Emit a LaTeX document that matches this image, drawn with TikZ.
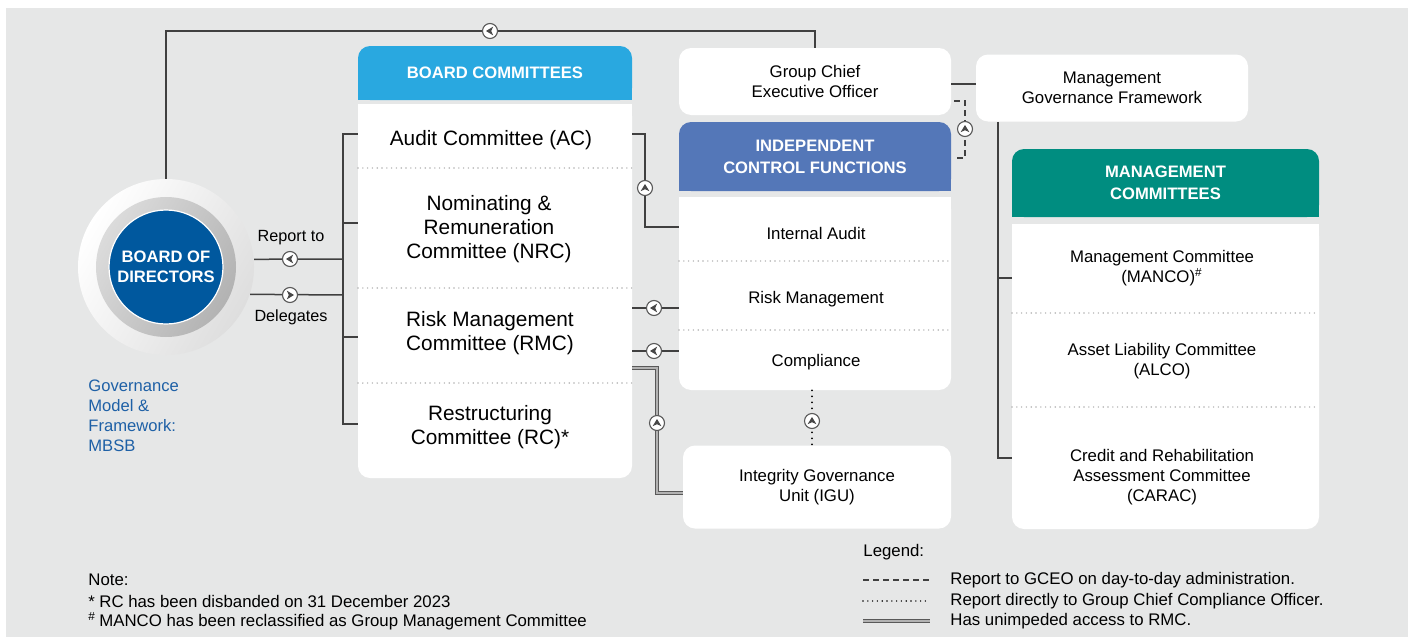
\documentclass[tikz,border=0pt]{standalone}
\usepackage{fontspec}
\setmainfont{Liberation Sans}
\usetikzlibrary{backgrounds}

\definecolor{pagegray}{RGB}{230,231,231}
\definecolor{bcblue}{RGB}{41,168,224}
\definecolor{icfblue}{RGB}{84,119,184}
\definecolor{mcteal}{RGB}{0,141,128}
\definecolor{bodblue}{RGB}{0,88,158}
\definecolor{govblue}{RGB}{30,96,166}

\tikzset{
  panel/.style={fill=white, rounded corners=6pt, inner sep=0pt},
  headbox/.style={rounded corners=6pt, inner sep=0pt, text=white, align=center,
    font=\bfseries\fontsize{8.3}{11}\selectfont},
  rowtext/.style={align=center, font=\fontsize{10.4}{12}\selectfont},
  srow/.style={align=center, font=\fontsize{8.4}{10}\selectfont},
  notetext/.style={inner sep=0pt, font=\fontsize{8.4}{10}\selectfont},
  rowline/.style={draw=black!30, line width=0.8pt, dash pattern=on 0pt off 2.4pt, line cap=round},
  link/.style={draw=black!75, line width=0.75pt},
  dashlink/.style={link, dash pattern=on 3pt off 2pt},
  dotlink/.style={draw=black, line width=1pt, line cap=round, dash pattern=on 0pt off 3pt},
  dbllink/.style={draw=black!65, double=black!30, double distance=0.9pt, line width=0.6pt},
  dirmark/.pic={
    \draw[black!65, fill=white, line width=0.55pt] (0,0) circle (7.5);
    \fill[black!72] (-4,0) -- (3.2,-4.4) -- (1.2,0) -- (3.2,4.4) -- cycle;
  }
}

\begin{document}
\begin{tikzpicture}[x=0.5pt, y=-0.5pt]
  \useasboundingbox (0,0) rectangle (1408,637);

  % --- board of directors ---
  \node[circle, minimum size=88pt, inner sep=0pt, left color=white, right color=black!13,
        shading angle=60] (bodring) at (166,267) {};
  \node[circle, minimum size=70pt, inner sep=0pt, left color=black!14, right color=black!30,
        shading angle=60] (bodmid) at (166,267) {};
  \node[circle, minimum size=57pt, inner sep=0pt, fill=bodblue, draw=white, line width=0.6pt,
        text=white, align=center, font=\bfseries\fontsize{8.3}{10}\selectfont] (bod) at (166,267)
        {BOARD OF\\DIRECTORS};
  \node[anchor=west, align=left, inner sep=0pt, text=govblue,
        font=\fontsize{8.3}{10}\selectfont] (gov) at (88,416)
        {Governance\\Model \&\\Framework:\\MBSB};
  \node[font=\fontsize{8.1}{10}\selectfont] (repto) at (291,238) {Report to};
  \node[font=\fontsize{8.1}{10}\selectfont] (deleg) at (291,317) {Delegates};

  % --- board committees ---
  \node[headbox, fill=bcblue, minimum width=137pt, minimum height=27pt] (bchead) at (495,73)
        {BOARD COMMITTEES};
  \node[panel, minimum width=137pt, minimum height=187pt] (bcbody) at (495,291) {};
  \node[rowtext] (ac) at (491,140) {Audit Committee (AC)};
  \node[rowtext] (nrc) at (489,229) {Nominating \&\\Remuneration\\Committee (NRC)};
  \node[rowtext] (rmc) at (490,333) {Risk Management\\Committee (RMC)};
  \node[rowtext] (rc) at (490,427) {Restructuring\\Committee (RC)*};
  \foreach \y in {168,288,383}
    \draw[rowline] (358,\y) -- (632,\y);

  % --- gceo and management framework ---
  \node[panel, srow, minimum width=136pt, minimum height=33.5pt] (gceo) at (815,81.5)
        {Group Chief\\Executive Officer};
  \node[panel, srow, minimum width=136pt, minimum height=33.5pt] (mgf) at (1112,88)
        {Management\\Governance Framework};

  % --- independent control functions ---
  \node[headbox, fill=icfblue, minimum width=136pt, minimum height=34.5pt] (icfhead) at (815,156.5)
        {INDEPENDENT\\CONTROL FUNCTIONS};
  \node[panel, minimum width=136pt, minimum height=96.5pt] (icfbody) at (815,293.5) {};
  \node[srow] (ia) at (816,233) {Internal Audit};
  \node[srow] (rm) at (816,299) {Risk Management};
  \node[srow] (comp) at (816,362) {Compliance};
  \foreach \y in {261,330}
    \draw[rowline] (679,\y) -- (951,\y);
  \node[panel, srow, minimum width=134pt, minimum height=41.5pt] (igu) at (817,487)
        {Integrity Governance\\Unit (IGU)};

  % --- management committees ---
  \node[headbox, fill=mcteal, minimum width=153.5pt, minimum height=34pt] (mchead) at (1165.5,183)
        {MANAGEMENT\\COMMITTEES};
  \node[panel, minimum width=153.5pt, minimum height=152.5pt] (mcbody) at (1165.5,376.5) {};
  \node[srow] (manco) at (1162,268) {Management Committee\\(MANCO)\textsuperscript{\#}};
  \node[srow] (alco) at (1162,361) {Asset Liability Committee\\(ALCO)};
  \node[srow] (carac) at (1162,477) {Credit and Rehabilitation\\Assessment Committee\\(CARAC)};
  \foreach \y in {313,407}
    \draw[rowline] (1012,\y) -- (1319,\y);

  % --- connectors ---
  \coordinate (topc) at (490,31);
  \draw[link] (bodring.north) |- (topc) -| (gceo.north);
  \draw[link] (bodring.5) -- (343,259);
  \draw[link] (bodring.-18.5) -- (343,295);
  \draw[link] (bcbody.west |- 0,134) -| (343,424) -- (bcbody.west |- 0,424);
  \draw[link] (343,223) -- (bcbody.west |- 0,223);
  \draw[link] (343,337) -- (bcbody.west |- 0,337);
  \draw[link] (bcbody.east |- 0,134) -| (645,227) -- (icfbody.west |- 0,227);
  \draw[link] (icfbody.west |- 0,308) -- (bcbody.east |- 0,308);
  \draw[link] (icfbody.west |- 0,351) -- (bcbody.east |- 0,351);
  \draw[dbllink] (bcbody.east |- 0,368) -| (657,493) -- (igu.west |- 0,493);
  \draw[dotlink] (icfbody.south -| 812,0) -- (igu.north -| 812,0);
  \draw[link] (gceo.east |- 0,84) -- (mgf.west |- 0,84);
  \draw[dashlink] (954,101) -| (965,158) -- (954,158);
  \draw[link] (mgf.south -| 998,0) |- (mcbody.west |- 0,458);
  \draw[link] (998,278) -- (mcbody.west |- 0,278);

  % direction markers
  \pic at (topc) {dirmark};
  \pic at (290,259) {dirmark};
  \pic[rotate=180] at (290,295) {dirmark};
  \pic[rotate=-90] at (645,188) {dirmark};
  \pic at (654,308) {dirmark};
  \pic at (654,351) {dirmark};
  \pic[rotate=-90] at (657,423) {dirmark};
  \pic[rotate=-90] at (812,421) {dirmark};
  \pic[rotate=-90] at (965,129) {dirmark};

  % --- notes ---
  \node[notetext, anchor=west] (notehd) at (88,580) {Note:};
  \node[notetext, anchor=west] (note1) at (88,601) {\makebox[5.5pt][l]{*}RC has been disbanded on 31 December 2023};
  \node[notetext, anchor=west] (note2) at (88,621) {\makebox[5.5pt][l]{\textsuperscript{\#}}MANCO has been reclassified as Group Management Committee};

  % --- legend ---
  \node[notetext, anchor=west] (leghd) at (863,552) {Legend:};
  \draw[dashlink] (863,580) -- (930,580);
  \draw[dotlink, line width=0.8pt, dash pattern=on 0pt off 2.4pt] (863,601) -- (930,601);
  \draw[dbllink] (863,621) -- (930,621);
  \node[notetext, anchor=west] (leg1) at (950,580) {Report to GCEO on day-to-day administration.};
  \node[notetext, anchor=west] (leg2) at (950,601) {Report directly to Group Chief Compliance Officer.};
  \node[notetext, anchor=west] (leg3) at (950,621) {Has unimpeded access to RMC.};

  % --- page and square corners behind the panels ---
  \begin{scope}[on background layer]
    \fill[white] (0,0) rectangle (1408,637);
    \fill[pagegray] (6,8) rectangle (1408,637);
    \fill[bcblue] (bchead.west) rectangle (bchead.south east);
    \fill[icfblue] (icfhead.west) rectangle (icfhead.south east);
    \fill[mcteal] (mchead.west) rectangle (mchead.south east);
    \fill[white] (bcbody.north west) rectangle (bcbody.east);
    \fill[white] (icfbody.north west) rectangle (icfbody.east);
    \fill[white] (mcbody.north west) rectangle (mcbody.east);
  \end{scope}
\end{tikzpicture}
\end{document}
